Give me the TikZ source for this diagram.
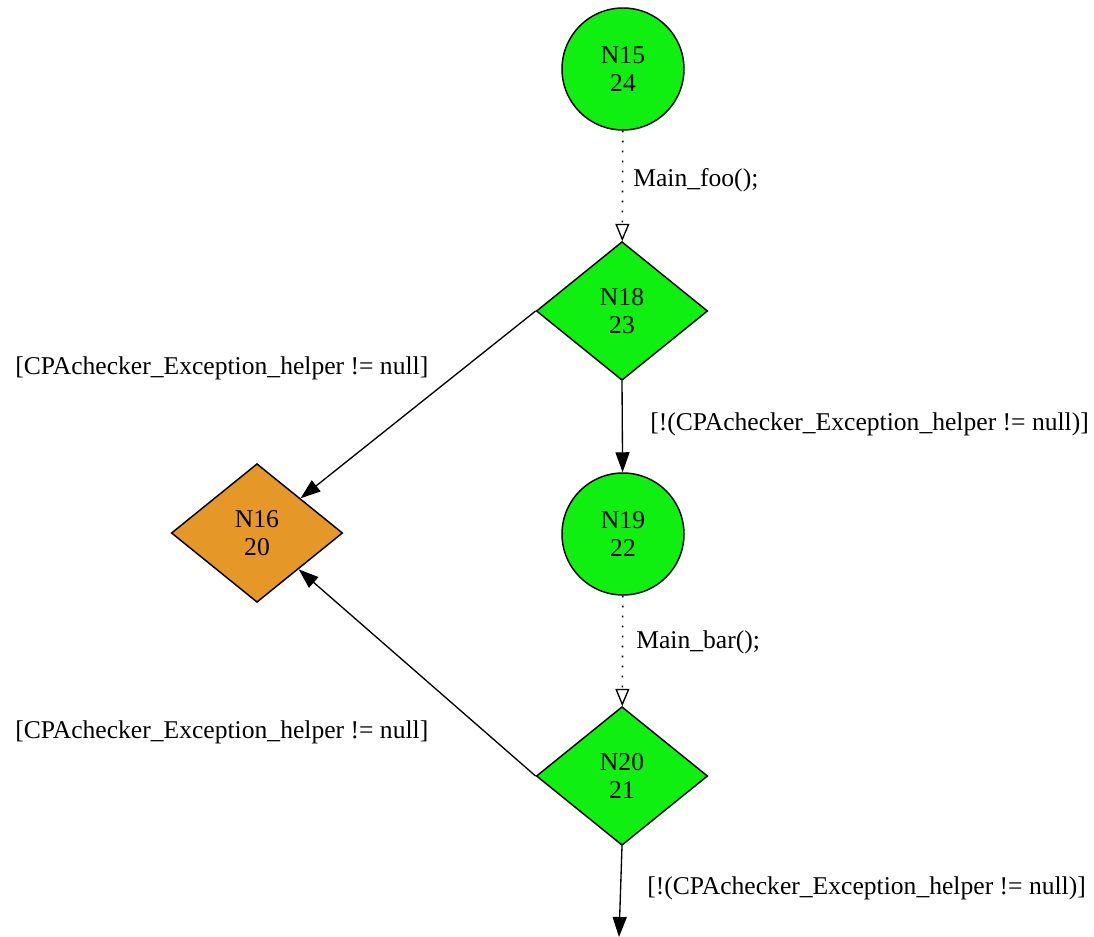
\documentclass[tikz,border=0pt]{standalone}
\usepackage{fontspec}
\setmainfont{Liberation Serif}
\usetikzlibrary{shapes.geometric,arrows.meta}
\definecolor{ngreen}{RGB}{16,240,16}
\definecolor{norange}{RGB}{229,152,40}
\tikzset{
  every node/.style={font=\fontsize{19.2}{20.5}\selectfont},
  circnode/.style={circle,draw,line width=1.1pt,fill=ngreen,minimum size=91.5pt,inner sep=0pt,align=center},
  diamnode/.style={diamond,draw,line width=1.1pt,fill=ngreen,minimum width=128.5pt,minimum height=104pt,inner sep=0pt,align=center},
  solidedge/.style={line width=1pt,-{Triangle[length=15pt,width=10.5pt]}},
  dotedge/.style={line width=1.2pt,dash pattern=on 1.2pt off 6.3pt,-{Triangle[open,length=13pt,width=10.5pt,line width=1pt,sep=0pt]}},
  elabel/.style={anchor=west,inner sep=0pt}
}
\begin{document}
\begin{tikzpicture}[x=0.75pt,y=-0.75pt]
\useasboundingbox (0,0) rectangle (1094,937);
\node[circnode] (N15) at (623,69) {N15\\24};
\node[diamnode] (N18) at (622,311) {N18\\23};
\node[diamnode,fill=norange] (N16) at (257,533) {N16\\20};
\node[circnode] (N19) at (623,534) {N19\\22};
\node[diamnode] (N20) at (622,776) {N20\\21};
\coordinate (end) at (619,937);

\draw[dotedge] (N15) -- (N18);
\node[elabel] (l1) at (633,180) {Main\_foo();};
\draw[solidedge] (N18.west) -- (N16);
\node[elabel] (l2) at (15,368) {[CPAchecker\_Exception\_helper != null]};
\draw[solidedge] (N18.south) -- (N19);
\node[elabel] (l3) at (650,424) {[!(CPAchecker\_Exception\_helper != null)]};
\draw[dotedge] (N19) -- (N20);
\node[elabel] (l4) at (636,642) {Main\_bar();};
\draw[solidedge] (N20.west) -- (N16);
\node[elabel] (l5) at (15,732) {[CPAchecker\_Exception\_helper != null]};
\draw[solidedge] (N20.south) -- (end);
\node[elabel] (l6) at (647,888) {[!(CPAchecker\_Exception\_helper != null)]};
\end{tikzpicture}
\end{document}
